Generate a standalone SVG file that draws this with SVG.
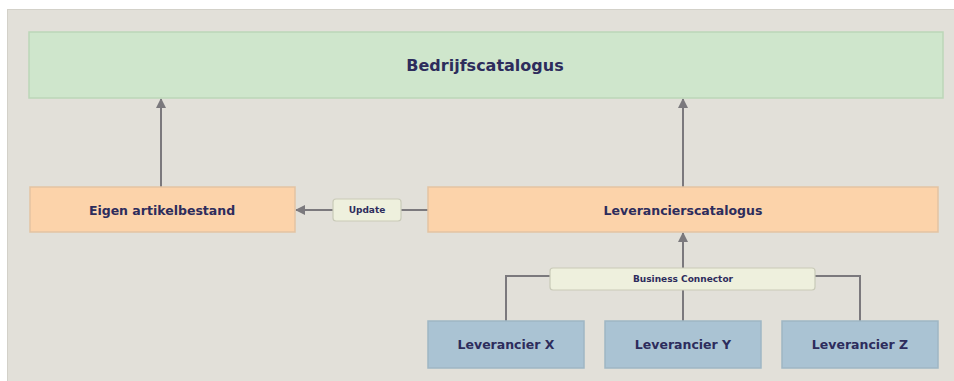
<svg xmlns="http://www.w3.org/2000/svg" width="954" height="381" viewBox="0 0 954 381">
  <defs>
    <marker id="arrow" viewBox="0 0 10 10" refX="9" refY="5" markerWidth="10" markerHeight="10" markerUnits="userSpaceOnUse" orient="auto">
      <path d="M0,0 L10,5 L0,10 z" fill="#7b797d"/>
    </marker>
    <style>
      .panel { fill: #e2e0d9; stroke: #d3d1c9; stroke-width: 1; }
      .green { fill: #cfe6cc; stroke: #bcd6b8; stroke-width: 1.5; }
      .peach { fill: #fcd3aa; stroke: #e3c3a3; stroke-width: 1.5; }
      .blue { fill: #aac3d3; stroke: #9fb6c4; stroke-width: 1.5; }
      .tag { fill: #eef0dd; stroke: #c9cab8; stroke-width: 1.2; }
      .label { font-family: "DejaVu Sans", Verdana, sans-serif; font-weight: bold; fill: #2d2c5c; text-anchor: middle; dominant-baseline: central; }
      .big { font-size: 16px; }
      .mid { font-size: 12.5px; }
      .small { font-size: 9px; }
      .line { fill: none; stroke: #7b797d; stroke-width: 2; }
    </style>
  </defs>

  <rect x="0" y="0" width="954" height="381" fill="#ffffff"/>
  <rect class="panel" x="7.5" y="9.5" width="950" height="375"/>

  <g id="connectors">
    <line class="line" x1="161" y1="187" x2="161" y2="99" marker-end="url(#arrow)"/>
    <line class="line" x1="683" y1="187" x2="683" y2="99" marker-end="url(#arrow)"/>
    <line class="line" x1="333" y1="210" x2="296" y2="210" marker-end="url(#arrow)"/>
    <line class="line" x1="428" y1="210" x2="401" y2="210"/>
    <line class="line" x1="683" y1="268" x2="683" y2="233" marker-end="url(#arrow)"/>
    <line class="line" x1="683" y1="321" x2="683" y2="290"/>
    <polyline class="line" points="506,321 506,276 550,276"/>
    <polyline class="line" points="860,321 860,276 815,276"/>
  </g>

  <g id="bedrijfscatalogus">
    <rect class="green" x="29" y="32" width="914" height="66"/>
    <text class="label big" x="485" y="65">Bedrijfscatalogus</text>
  </g>

  <g id="eigen-artikelbestand">
    <rect class="peach" x="30" y="187" width="265" height="45"/>
    <text class="label mid" x="162" y="210">Eigen artikelbestand</text>
  </g>

  <g id="update">
    <rect class="tag" x="333" y="199" width="68" height="22" rx="3"/>
    <text class="label small" x="367" y="210">Update</text>
  </g>

  <g id="leverancierscatalogus">
    <rect class="peach" x="428" y="187" width="510" height="45"/>
    <text class="label mid" x="683" y="210">Leverancierscatalogus</text>
  </g>

  <g id="business-connector">
    <rect class="tag" x="550" y="268" width="265" height="22" rx="3"/>
    <text class="label small" x="683" y="279">Business Connector</text>
  </g>

  <g id="leverancier-x">
    <rect class="blue" x="428" y="321" width="156" height="47"/>
    <text class="label mid" x="506" y="344">Leverancier X</text>
  </g>

  <g id="leverancier-y">
    <rect class="blue" x="605" y="321" width="156" height="47"/>
    <text class="label mid" x="683" y="344">Leverancier Y</text>
  </g>

  <g id="leverancier-z">
    <rect class="blue" x="782" y="321" width="156" height="47"/>
    <text class="label mid" x="860" y="344">Leverancier Z</text>
  </g>
</svg>
